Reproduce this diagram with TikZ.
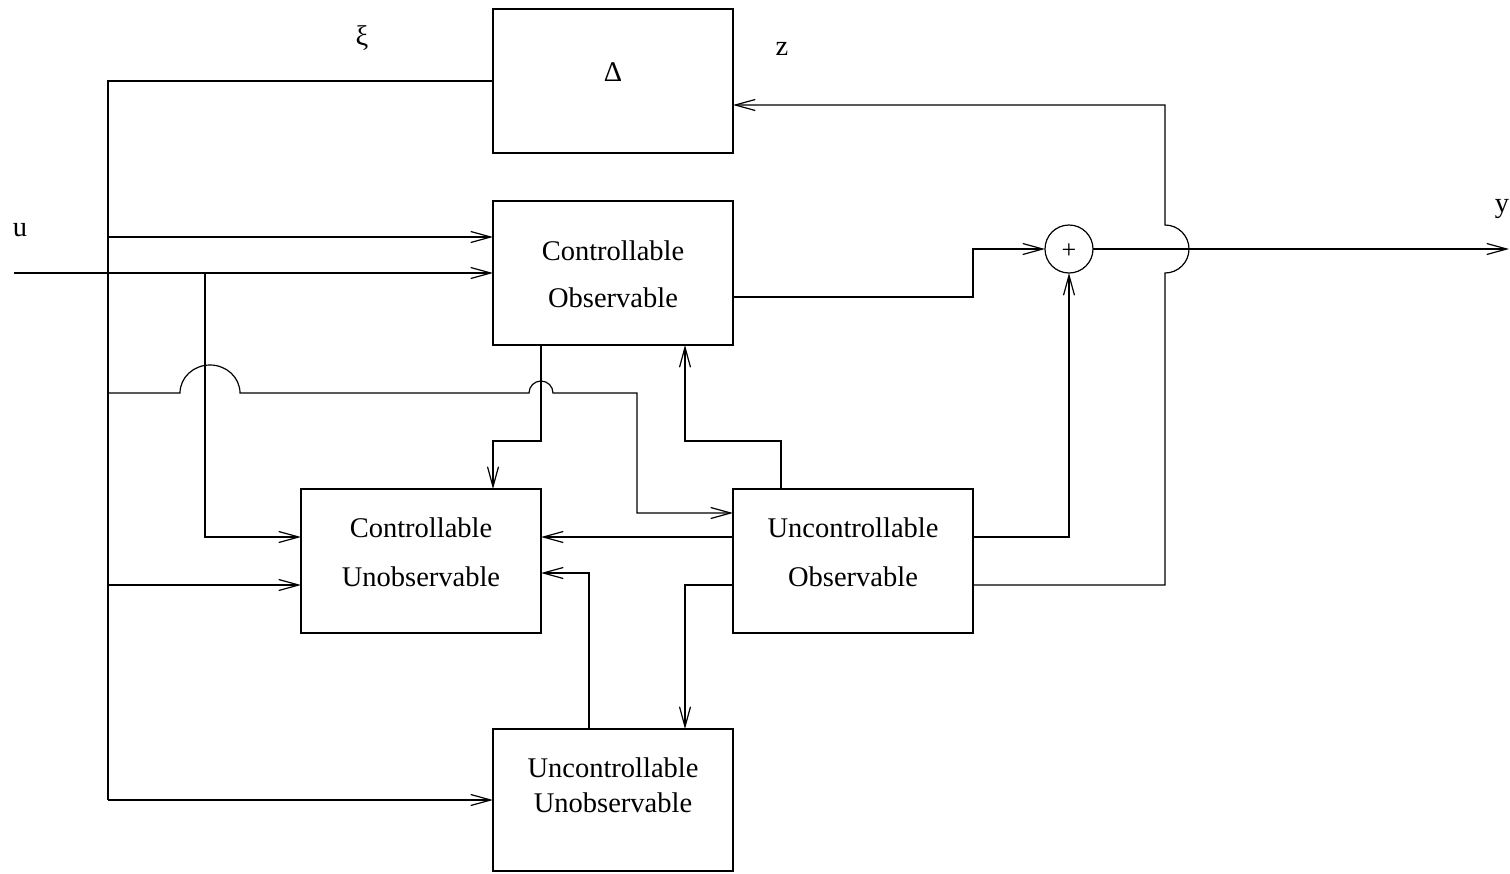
\documentclass[tikz,border=0pt]{standalone}
\usepackage{fontspec}
\setmainfont{Liberation Serif}
\usetikzlibrary{arrows.meta}
\begin{document}
\begin{tikzpicture}[x=1pt,y=-1pt,line width=1.2pt,
  box/.style={draw,minimum width=240pt,minimum height=144pt,inner sep=0pt,outer sep=0pt},
  lbl/.style={font=\fontsize{28.5}{30}\selectfont,anchor=base,inner sep=0pt},
  sym/.style={font=\fontsize{28.5}{30}\selectfont,inner sep=0pt},
  sig/.style={-{Straight Barb[length=20pt,width=11pt]}}]
\useasboundingbox (0,0) rectangle (1510,873);

% blocks
\node[box] (dl) at (613,81) {};
\node[box] (co) at (613,273) {};
\node[box] (cu) at (421,561) {};
\node[box] (uo) at (853,561) {};
\node[box,minimum height=142pt] (uu) at (613,800) {};
\node[draw,circle,minimum size=48pt,inner sep=0pt,outer sep=0pt] (sum) at (1069,249) {};
\node[inner sep=0pt,font=\fontsize{26}{26}\selectfont] at (1069,251) {+};

% block texts
\node[lbl] at (613,81) {Δ};
\node[lbl] at (613,260) {Controllable};
\node[lbl] at (613,307) {Observable};
\node[lbl] at (421,537) {Controllable};
\node[lbl] at (421,586) {Unobservable};
\node[lbl] at (853,537) {Uncontrollable};
\node[lbl] at (853,586) {Observable};
\node[lbl] at (613,777) {Uncontrollable};
\node[lbl] at (613,812) {Unobservable};

% signal names
\node[sym] at (362,38) {ξ};
\node[sym] at (782,49) {z};
\node[sym] at (20,230) {u};
\node[sym] at (1502,209) {y};

% junction and corner points
\coordinate (busT) at (108,81);
\coordinate (busB) at (108,800);
\coordinate (j1) at (108,237);
\coordinate (j2) at (108,393);
\coordinate (j3) at (108,585);
\coordinate (uin) at (14,273);
\coordinate (uj) at (205,273);
\coordinate (ucu) at (205,537);
\coordinate (k1) at (637,393);
\coordinate (k2) at (637,513);
\coordinate (a1) at (541,441);
\coordinate (a2) at (493,441);
\coordinate (b1) at (781,441);
\coordinate (b2) at (685,441);
\coordinate (c1) at (0,537);
\coordinate (d1) at (685,585);
\coordinate (e1) at (589,573);
\coordinate (f1) at (973,297);
\coordinate (f2) at (973,249);
\coordinate (yout) at (1509,249);
\coordinate (g1) at (1069,537);
\coordinate (h1) at (1165,585);
\coordinate (h2) at (1165,105);

% uncertainty output bus
\draw (dl.west) -- (busT) -- (busB);
\draw[sig] (busB) -- (busB -| uu.west);
\draw[sig] (j1) -- (j1 -| co.west);
\draw[sig] (j3) -- (j3 -| cu.west);
\draw[sig] (j2) -- (180,393) arc[start angle=180,end angle=0,x radius=30pt,y radius=28pt]
  -- (529,393) arc[start angle=180,end angle=0,radius=12pt]
  -- (k1) -- (k2) -- (k2 -| uo.west);

% control input
\draw[sig] (uin) -- (uin -| co.west);
\draw[sig] (uj) -- (ucu) -- (ucu -| cu.west);

% couplings between blocks
\draw[sig] (co.south -| a1) -- (a1) -- (a2) -- (a2 |- cu.north);
\draw[sig] (uo.north -| b1) -- (b1) -- (b2) -- (b2 |- co.south);
\draw[sig] (uo.west |- c1) -- (c1 -| cu.east);
\draw[sig] (uo.west |- d1) -- (d1) -- (d1 |- uu.north);
\draw[sig] (uu.north -| e1) -- (e1) -- (e1 -| cu.east);

% outputs
\draw[sig] (co.east |- f1) -- (f1) -- (f2) -- (sum.west);
\draw[sig] (sum.east) -- (yout);
\draw[sig] (uo.east |- g1) -- (g1) -- (sum.south);
\draw[sig] (uo.east |- h1) -- (h1) -- (1165,273)
  arc[start angle=-90,end angle=90,radius=24pt] -- (h2) -- (h2 -| dl.east);
\end{tikzpicture}
\end{document}
